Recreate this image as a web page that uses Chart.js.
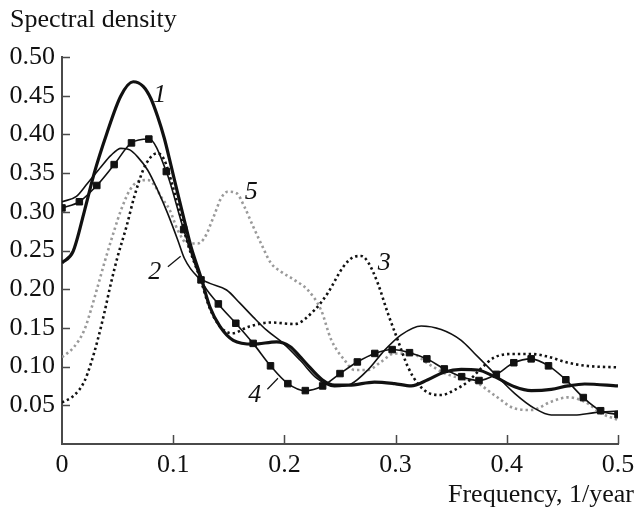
<!DOCTYPE html>
<html>
<head>
<meta charset="utf-8">
<script src="https://cdn.jsdelivr.net/npm/chart.js@4.4.1/dist/chart.umd.min.js"></script>
<style>
  html, body { margin: 0; padding: 0; background: #fff; }
  canvas { display: block; }
</style>
</head>
<body>
<canvas id="spectra" width="636" height="513"></canvas>
<script>
// spectral density estimates, one pair of arrays per curve
var freq1 = [0, 0.010, 0.020, 0.029, 0.040, 0.053, 0.064, 0.073, 0.080, 0.086,
             0.092, 0.098, 0.104, 0.110, 0.116, 0.125, 0.133, 0.142, 0.154, 0.172,
             0.193, 0.205, 0.214, 0.219, 0.234, 0.245, 0.258, 0.281, 0.299, 0.314,
             0.329, 0.344, 0.359, 0.374, 0.389, 0.407, 0.422, 0.440, 0.455, 0.470, 0.5];
var dens1 = [0.234, 0.249, 0.300, 0.350, 0.400, 0.450, 0.468, 0.462, 0.446, 0.423,
             0.395, 0.360, 0.324, 0.289, 0.255, 0.215, 0.177, 0.152, 0.134, 0.129,
             0.132, 0.126, 0.113, 0.105, 0.083, 0.076, 0.076, 0.080, 0.078, 0.075,
             0.083, 0.093, 0.0965, 0.0956, 0.087, 0.074, 0.069, 0.0706, 0.075, 0.0775, 0.075];

var freq2 = [0, 0.013, 0.023, 0.035, 0.044, 0.053, 0.061, 0.068, 0.077, 0.086,
             0.095, 0.104, 0.110, 0.122, 0.133, 0.148, 0.160, 0.172, 0.184, 0.199,
             0.214, 0.229, 0.245, 0.260, 0.275, 0.290, 0.305, 0.323, 0.341, 0.359,
             0.371, 0.380, 0.389, 0.407, 0.425, 0.440, 0.461, 0.479, 0.5];
var dens2 = [0.313, 0.320, 0.337, 0.358, 0.373, 0.382, 0.380, 0.371, 0.354, 0.328,
             0.298, 0.264, 0.240, 0.216, 0.2075, 0.199, 0.182, 0.164, 0.147, 0.130,
             0.1085, 0.085, 0.074, 0.0775, 0.0956, 0.121, 0.141, 0.1525, 0.148, 0.134,
             0.117, 0.104, 0.091, 0.0655, 0.046, 0.0375, 0.0375, 0.0405, 0.0426];

var freq3 = [0, 0.011, 0.020, 0.026, 0.032, 0.038, 0.044, 0.050, 0.058, 0.065,
             0.073, 0.080, 0.086, 0.092, 0.098, 0.106, 0.113, 0.124, 0.133, 0.142,
             0.153, 0.168, 0.188, 0.209, 0.227, 0.239, 0.253, 0.263, 0.269, 0.275,
             0.284, 0.293, 0.302, 0.311, 0.320, 0.332, 0.341, 0.353, 0.365, 0.377,
             0.389, 0.407, 0.422, 0.437, 0.455, 0.473, 0.5];
var dens3 = [0.0535, 0.063, 0.0805, 0.104, 0.134, 0.169, 0.2076, 0.242, 0.281, 0.3195,
             0.354, 0.371, 0.3756, 0.367, 0.341, 0.298, 0.259, 0.215, 0.175, 0.152,
             0.143, 0.1516, 0.157, 0.155, 0.173, 0.195, 0.229, 0.242, 0.2429, 0.2355,
             0.2076, 0.169, 0.134, 0.0999, 0.078, 0.0646, 0.0633, 0.0698, 0.0805, 0.0978,
             0.112, 0.1163, 0.1163, 0.1128, 0.105, 0.1008, 0.099];

// curve 4 is drawn with markers at every estimate
var freq4 = [0, 0.0156, 0.0313, 0.0469, 0.0625, 0.0781, 0.0938, 0.1094, 0.125, 0.1406,
             0.1563, 0.1719, 0.1875, 0.2031, 0.2188, 0.2344, 0.25, 0.2656, 0.2813, 0.2969,
             0.3125, 0.3281, 0.3438, 0.3594, 0.375, 0.3906, 0.4063, 0.4219, 0.4375, 0.4531,
             0.4688, 0.4844, 0.5];
var dens4 = [0.305, 0.313, 0.334, 0.361, 0.389, 0.394, 0.352, 0.277, 0.212, 0.181,
             0.156, 0.130, 0.101, 0.078, 0.069, 0.075, 0.091, 0.106, 0.117, 0.122,
             0.118, 0.110, 0.097, 0.087, 0.082, 0.090, 0.105, 0.110, 0.101, 0.083,
             0.060, 0.043, 0.038];

var freq5 = [0, 0.011, 0.020, 0.026, 0.032, 0.038, 0.041, 0.047, 0.053, 0.061,
             0.068, 0.077, 0.083, 0.089, 0.097, 0.104, 0.113, 0.122, 0.128, 0.137,
             0.143, 0.149, 0.157, 0.164, 0.172, 0.179, 0.188, 0.197, 0.209, 0.221,
             0.233, 0.242, 0.254, 0.263, 0.275, 0.287, 0.299, 0.314, 0.329, 0.344,
             0.359, 0.371, 0.389, 0.407, 0.422, 0.440, 0.455, 0.470, 0.485, 0.5];
var dens5 = [0.112, 0.1257, 0.147, 0.173, 0.203, 0.2335, 0.248, 0.276, 0.302, 0.328,
             0.339, 0.341, 0.3346, 0.3195, 0.302, 0.2765, 0.259, 0.259, 0.266, 0.296,
             0.3175, 0.326, 0.324, 0.3066, 0.2807, 0.259, 0.2335, 0.2226, 0.2119, 0.199,
             0.173, 0.135, 0.1085, 0.0956, 0.0956, 0.1063, 0.117, 0.117, 0.104, 0.0913,
             0.0849, 0.081, 0.063, 0.046, 0.0439, 0.0547, 0.0603, 0.0547, 0.0397, 0.031];

var curveNames = ['1', '2', '3', '4', '5'];

var axisColor = '#4a4a4a';
var serif = '"Liberation Serif", "DejaVu Serif", serif';

function toPoints(f, d) {
    var pts = [];
    for (var i = 0; i < f.length; i++) {
        pts.push({ x: f[i], y: d[i] });
    }
    return pts;
}

// curve numbers and their leader lines, in data units
var curveTags = [
    { text: curveNames[0], x: 0.0878, y: 0.451 },
    { text: curveNames[1], x: 0.0833, y: 0.2226, lead: [0.0952, 0.229, 0.1067, 0.2426] },
    { text: curveNames[2], x: 0.2897, y: 0.2335 },
    { text: curveNames[3], x: 0.1733, y: 0.0633, lead: [0.1847, 0.0707, 0.1942, 0.0849] },
    { text: curveNames[4], x: 0.1703, y: 0.326 }
];

var decorPlugin = {
    id: 'decor',
    afterDraw: function (chart) {
        var ctx = chart.ctx;
        var xs = chart.scales.x, ys = chart.scales.y;
        ctx.save();

        // inward tick marks
        ctx.strokeStyle = axisColor;
        ctx.lineWidth = 1.5;
        ctx.beginPath();
        ys.ticks.forEach(function (t) {
            if (t.value <= 0) return;
            var py = Math.round(ys.getPixelForValue(t.value)) + 0.5;
            ctx.moveTo(xs.left, py);
            ctx.lineTo(xs.left + 8, py);
        });
        xs.ticks.forEach(function (t) {
            if (t.value <= 0) return;
            var px = Math.round(xs.getPixelForValue(t.value)) + 0.5;
            ctx.moveTo(px, ys.bottom);
            ctx.lineTo(px, ys.bottom - 9);
        });
        ctx.stroke();

        // axis titles
        ctx.fillStyle = '#111';
        ctx.font = '26px ' + serif;
        ctx.textBaseline = 'alphabetic';
        ctx.textAlign = 'left';
        ctx.fillText('Spectral density', 10, 27);
        ctx.textAlign = 'right';
        ctx.fillText('Frequency, 1/year', 634, 502);

        // curve numbers
        ctx.font = 'italic 26px ' + serif;
        ctx.textAlign = 'center';
        ctx.textBaseline = 'middle';
        ctx.strokeStyle = '#111';
        ctx.lineWidth = 1.2;
        curveTags.forEach(function (tag) {
            ctx.fillText(tag.text, xs.getPixelForValue(tag.x), ys.getPixelForValue(tag.y));
            if (tag.lead) {
                ctx.beginPath();
                ctx.moveTo(xs.getPixelForValue(tag.lead[0]), ys.getPixelForValue(tag.lead[1]));
                ctx.lineTo(xs.getPixelForValue(tag.lead[2]), ys.getPixelForValue(tag.lead[3]));
                ctx.stroke();
            }
        });
        ctx.restore();
    }
};

function curve(f, d, opts) {
    var ds = {
        data: toPoints(f, d),
        borderColor: '#111',
        backgroundColor: '#111',
        borderWidth: 1.6,
        pointRadius: 0,
        fill: false,
        cubicInterpolationMode: 'monotone'
    };
    for (var k in opts) ds[k] = opts[k];
    return ds;
}

new Chart(document.getElementById('spectra'), {
    type: 'line',
    data: {
        datasets: [
            curve(freq5, dens5, { borderColor: '#9a9a9a', borderWidth: 2.6, borderDash: [2.4, 3], order: 5 }),
            curve(freq3, dens3, { borderWidth: 2.6, borderDash: [2.4, 3], order: 4 }),
            curve(freq2, dens2, { borderWidth: 1.6, order: 3 }),
            curve(freq4, dens4, { borderWidth: 1.6, pointRadius: 4.6, pointStyle: 'rect',
                                  pointBorderWidth: 1, pointBorderColor: '#111', order: 2 }),
            curve(freq1, dens1, { borderWidth: 3.2, order: 1 })
        ]
    },
    options: {
        responsive: false,
        animation: false,
        devicePixelRatio: 1,
        layout: { padding: { left: 0, right: 18, top: 57, bottom: 0 } },
        plugins: { legend: { display: false }, tooltip: { enabled: false } },
        scales: {
            x: {
                type: 'linear',
                min: 0,
                max: 0.5,
                grid: { display: false, drawTicks: false },
                border: { display: true, color: axisColor, width: 2 },
                ticks: {
                    stepSize: 0.1,
                    padding: 6,
                    color: '#111',
                    font: { family: serif, size: 26 },
                    maxRotation: 0,
                    callback: function (v) { return v === 0 ? '0' : v.toFixed(1); }
                },
                afterFit: function (s) {
                    s.height = 69;
                    s.paddingLeft = 0;
                    s.paddingRight = 0;
                }
            },
            y: {
                min: 0,
                max: 0.5,
                grid: { display: false, drawTicks: false },
                border: { display: true, color: axisColor, width: 2 },
                ticks: {
                    stepSize: 0.05,
                    padding: 7,
                    color: '#111',
                    font: { family: serif, size: 26 },
                    callback: function (v) { return v < 0.01 ? '' : v.toFixed(2); }
                },
                afterFit: function (s) { s.width = 62; }
            }
        }
    },
    plugins: [decorPlugin]
});
</script>
</body>
</html>
